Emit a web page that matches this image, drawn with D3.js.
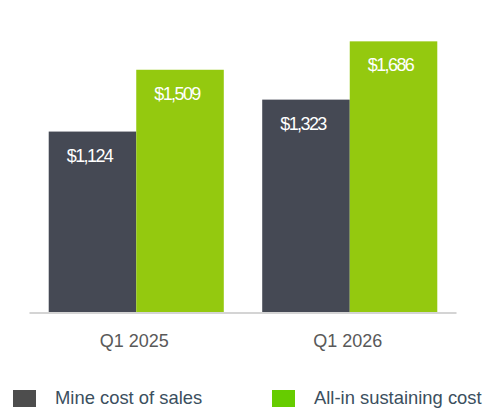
<!DOCTYPE html>
<html>
<head>
    <script src="https://d3js.org/d3.v7.min.js"></script>
    <style>
        body { margin: 0; background: #fff; }
        text { font-family: "Liberation Sans", Arial, sans-serif; }
    </style>
</head>
<body>
    <div id="chart"></div>
<script>
    const quarters = ["Q1 2025", "Q1 2026"];
    const seriesNames = ["Mine cost of sales", "All-in sustaining cost"];
    const mineCost = [1124, 1323];
    const aisc = [1509, 1686];

    const width = 489, height = 408;
    const baseY = 312;

    const svg = d3.select("#chart")
        .append("svg")
        .attr("width", width)
        .attr("height", height);

    // rows for grouped bars
    const rows = quarters.map((q, i) => ({
        quarter: q,
        values: [mineCost[i], aisc[i]]
    }));

    const x0 = d3.scaleBand()
        .domain(quarters)
        .range([29.5, 456.5])
        .padding(0);

    const groupW = x0.bandwidth() * 0.82;
    const x1 = d3.scaleBand()
        .domain(seriesNames)
        .range([0, groupW])
        .padding(0);

    const y = d3.scaleLinear()
        .domain([0, 1700])
        .range([baseY, baseY - 272.9]);

    const barColor = d3.scaleOrdinal()
        .domain(seriesNames)
        .range(["#454954", "#94c90f"]);
    const legendColor = d3.scaleOrdinal()
        .domain(seriesNames)
        .range(["#4d4d4d", "#66cc00"]);

    const groups = svg.selectAll("g.group")
        .data(rows)
        .join("g")
        .attr("class", "group")
        .attr("transform", d => `translate(${x0(d.quarter) + (x0.bandwidth() - groupW) / 2},0)`);

    const bars = groups.selectAll("g.bar")
        .data(d => d.values.map((v, i) => ({ name: seriesNames[i], value: v })))
        .join("g")
        .attr("class", "bar");

    bars.append("rect")
        .attr("x", d => x1(d.name))
        .attr("y", d => y(d.value))
        .attr("width", x1.bandwidth())
        .attr("height", d => baseY - y(d.value))
        .attr("fill", d => barColor(d.name));

    bars.append("text")
        .attr("x", d => x1(d.name) + x1.bandwidth() / 2 - 3)
        .attr("y", d => y(d.value) + 30)
        .attr("text-anchor", "middle")
        .attr("fill", "#fff")
        .style("font-size", "18px")
        .style("letter-spacing", "-1.6px")
        .text(d => "$" + d3.format(",")(d.value));

    // x axis
    const xAxis = svg.append("g")
        .attr("transform", `translate(0,${baseY})`)
        .call(d3.axisBottom(x0).tickSize(0).tickPadding(22));
    xAxis.select(".domain")
        .attr("stroke", "#d4d4d4")
        .attr("stroke-width", 2)
        .attr("d", `M29.5,1H456.5`);
    xAxis.selectAll(".tick text")
        .attr("fill", "#595959")
        .attr("dx", -2)
        .style("font-size", "18px")
        .style("font-family", "'Liberation Sans', Arial, sans-serif");

    // legend
    const legendX = [13, 272];
    const legend = svg.selectAll("g.legend")
        .data(seriesNames)
        .join("g")
        .attr("class", "legend")
        .attr("transform", (d, i) => `translate(${legendX[i]},390)`);
    legend.append("rect")
        .attr("width", 23)
        .attr("height", 17)
        .attr("fill", d => legendColor(d));
    legend.append("text")
        .attr("x", 42)
        .attr("y", 13.5)
        .attr("fill", "#3b4f5e")
        .style("font-size", "18.4px")
        .text(d => d);
</script>
</body>
</html>
